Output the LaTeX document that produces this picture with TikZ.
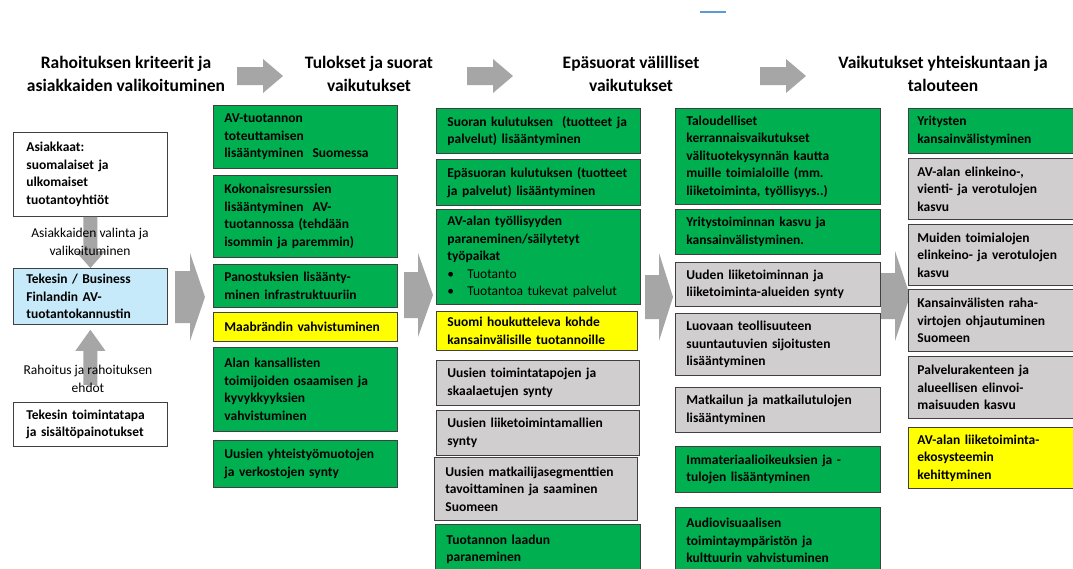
\documentclass[tikz,border=0pt]{standalone}
\usepackage{fontspec}
\setmainfont{Carlito}
\usetikzlibrary{calc}
\definecolor{avgreen}{RGB}{0,176,80}
\definecolor{avyellow}{RGB}{255,255,0}
\definecolor{avgray}{RGB}{208,206,206}
\definecolor{avblue}{RGB}{198,234,250}
\definecolor{arrowgray}{RGB}{166,166,166}
\newcommand{\boxfont}{\bfseries\fontsize{13.5}{17.5}\selectfont}
\newcommand{\headfont}{\bfseries\fontsize{17.5}{23}\selectfont}
\newcommand{\labelfont}{\fontsize{13.5}{17.5}\selectfont}
\newcommand{\headarrow}[2]{
    \fill[arrowgray] (#1,#2-9) -- (#1+26,#2-9) -- (#1+26,#2-17) -- (#1+46,#2) -- (#1+26,#2+17) -- (#1+26,#2+9) -- (#1,#2+9) -- cycle;
}
\newcommand{\colarrow}[6]{
    \fill[arrowgray] (#1,#4-#5) -- (#2,#4-#5) -- (#2,#4-#6) -- (#3,#4) -- (#2,#4+#6) -- (#2,#4+#5) -- (#1,#4+#5) -- cycle;
}
\tikzset{
    card/.style={draw=black!75, line width=0.8pt, anchor=north west, inner xsep=11pt, inner ysep=0pt, align=left, font=\boxfont},
    greencard/.style={card, fill=avgreen},
    yellowcard/.style={card, fill=avyellow},
    graycard/.style={card, fill=avgray},
    whitecard/.style={card, fill=white, inner xsep=13pt},
    bluecard/.style={card, fill=avblue, inner xsep=13pt},
    headtext/.style={align=center, font=\headfont},
    steptext/.style={align=center, font=\labelfont}
}

\begin{document}
\begin{tikzpicture}[x=1pt, y=-1pt]
    \clip (0,0) rectangle (1073,568);
    \fill[white] (0,0) rectangle (1073,568);
    \draw[line width=1.5pt, color={rgb,255:red,91;green,155;blue,213}] (700,12) -- (726,12);

    \node[headtext] (hcrit) at (126,74) {Rahoituksen kriteerit ja\\asiakkaiden valikoituminen};
    \node[headtext] (hdirect) at (369,74) {Tulokset ja suorat\\vaikutukset};
    \node[headtext] (hindirect) at (631,74) {Epäsuorat välilliset\\vaikutukset};
    \node[headtext] (hsociety) at (943,74) {Vaikutukset yhteiskuntaan ja\\talouteen};
    \headarrow{237}{76}
    \headarrow{467}{76}
    \headarrow{760}{76}

    \colarrow{175}{190}{205}{297}{26}{44}
    \colarrow{404}{418}{433}{295}{23}{42}
    \colarrow{645}{659}{673}{297}{22}{44}
    \colarrow{881}{895}{910}{296}{23}{45}

    \node[whitecard, text width=128pt, minimum height=84pt] (clients) at (13,132) {Asiakkaat:\\suomalaiset ja\\ulkomaiset\\tuotantoyhtiöt};
    \node[bluecard, text width=128pt, minimum height=56pt] (tekes) at (13,268) {Tekesin / Business\\Finlandin AV-\\tuotantokannustin};
    \node[whitecard, text width=128pt, minimum height=44pt] (practice) at (13,402) {Tekesin toimintatapa\\ja sisältöpainotukset};
    \coordinate (fundtail) at ($(tekes.south)+(0,60)$);
    \fill[arrowgray] ($(clients.south)+(-7,0)$) -- ($(clients.south)+(7,0)$) -- ($(tekes.north)+(7,-17)$) -- ($(tekes.north)+(15,-17)$) -- (tekes.north) -- ($(tekes.north)+(-15,-17)$) -- ($(tekes.north)+(-7,-17)$) -- cycle;
    \fill[arrowgray] ($(fundtail)+(-7,0)$) -- ($(fundtail)+(7,0)$) -- ($(tekes.south)+(7,26)$) -- ($(tekes.south)+(15,26)$) -- ($(tekes.south)+(0,5)$) -- ($(tekes.south)+(-15,26)$) -- ($(tekes.south)+(-7,26)$) -- cycle;
    \node[steptext] (select) at (90,242) {Asiakkaiden valinta ja\\valikoituminen};
    \node[steptext] (funding) at (88,379) {Rahoitus ja rahoituksen\\ehdot};

    \node[greencard, text width=162pt, minimum height=63pt] (c1a) at (213,105) {AV-tuotannon\\toteuttamisen\\lisääntyminen\ \ Suomessa};
    \node[greencard, text width=162pt, minimum height=82pt] (c1b) at (213,175) {Kokonaisresurssien\\lisääntyminen\ \ AV-\\tuotannossa (tehdään\\isommin ja paremmin)};
    \node[greencard, text width=162pt, minimum height=43pt] (c1c) at (213,264) {Panostuksien lisäänty-\\minen infrastruktuuriin};
    \node[yellowcard, text width=162pt, minimum height=29pt] (c1d) at (213,312) {Maabrändin vahvistuminen};
    \node[greencard, text width=162pt, minimum height=84pt] (c1e) at (213,347) {Alan kansallisten\\toimijoiden osaamisen ja\\kyvykkyyksien\\vahvistuminen};
    \node[greencard, text width=162pt, minimum height=47pt] (c1f) at (213,440) {Uusien yhteistyömuotojen\\ja verkostojen synty};

    \node[greencard, text width=182pt, minimum height=45pt] (c2a) at (436,108) {Suoran kulutuksen\ \ (tuotteet ja\\palvelut) lisääntyminen};
    \node[greencard, text width=182pt, minimum height=46pt] (c2b) at (436,159) {Epäsuoran kulutuksen (tuotteet\\ja palvelut) lisääntyminen};
    \node[greencard, text width=182pt, minimum height=95pt] (c2c) at (436,209) {AV-alan työllisyyden\\paraneminen/säilytetyt\\työpaikat\\{\mdseries\makebox[20pt][l]{\textbullet}Tuotanto}\\{\mdseries\makebox[20pt][l]{\textbullet}Tuotantoa tukevat palvelut}};
    \node[yellowcard, text width=179pt, minimum height=39pt] (c2d) at (436,311) {Suomi houkutteleva kohde\\kansainvälisille tuotannoille};
    \node[graycard, text width=181pt, minimum height=45pt] (c2e) at (436,360) {Uusien toimintatapojen ja\\skaalaetujen synty};
    \node[graycard, text width=181pt, minimum height=45pt] (c2f) at (436,410) {Uusien liiketoimintamallien\\synty};
    \node[graycard, text width=181pt, minimum height=63pt] (c2g) at (434,457) {Uusien matkailijasegmenttien\\tavoittaminen ja saaminen\\Suomeen};
    \node[greencard, text width=183pt, minimum height=50pt] (c2h) at (435,524) {Tuotannon laadun\\paraneminen};

    \node[greencard, text width=183pt, minimum height=96pt] (c3a) at (675,108) {Taloudelliset\\kerrannaisvaikutukset\\välituotekysynnän kautta\\muille toimialoille (mm.\\liiketoiminta, työllisyys..)};
    \node[greencard, text width=183pt, minimum height=45pt] (c3b) at (675,209) {Yritystoiminnan kasvu ja\\kansainvälistyminen.};
    \node[graycard, text width=183pt, minimum height=44pt] (c3c) at (675,262) {Uuden liiketoiminnan ja\\liiketoiminta-alueiden synty};
    \node[graycard, text width=183pt, minimum height=62pt] (c3d) at (675,313) {Luovaan teollisuuteen\\suuntautuvien sijoitusten\\lisääntyminen};
    \node[graycard, text width=183pt, minimum height=45pt] (c3e) at (675,387) {Matkailun ja matkailutulojen\\lisääntyminen};
    \node[greencard, text width=183pt, minimum height=46pt] (c3f) at (675,446) {Immateriaalioikeuksien ja -\\tulojen lisääntyminen};
    \node[greencard, text width=183pt, minimum height=66pt] (c3g) at (675,507) {Audiovisuaalisen\\toimintaympäristön ja\\kulttuurin vahvistuminen};

    \node[greencard, inner xsep=9pt, text width=174pt, minimum height=45pt] (c4a) at (908,108) {Yritysten\\kansainvälistyminen};
    \node[graycard, inner xsep=9pt, text width=174pt, minimum height=61pt] (c4b) at (908,158) {AV-alan elinkeino-,\\vienti- ja verotulojen\\kasvu};
    \node[graycard, inner xsep=9pt, text width=174pt, minimum height=61pt] (c4c) at (908,224) {Muiden toimialojen\\elinkeino- ja verotulojen\\kasvu};
    \node[graycard, inner xsep=9pt, text width=174pt, minimum height=62pt] (c4d) at (908,289) {Kansainvälisten raha-\\virtojen ohjautuminen\\Suomeen};
    \node[graycard, inner xsep=9pt, text width=174pt, minimum height=62pt] (c4e) at (908,356) {Palvelurakenteen ja\\alueellisen elinvoi-\\maisuuden kasvu};
    \node[yellowcard, inner xsep=9pt, text width=174pt, minimum height=61pt] (c4f) at (908,427) {AV-alan liiketoiminta-\\ekosysteemin\\kehittyminen};
\end{tikzpicture}
\end{document}
